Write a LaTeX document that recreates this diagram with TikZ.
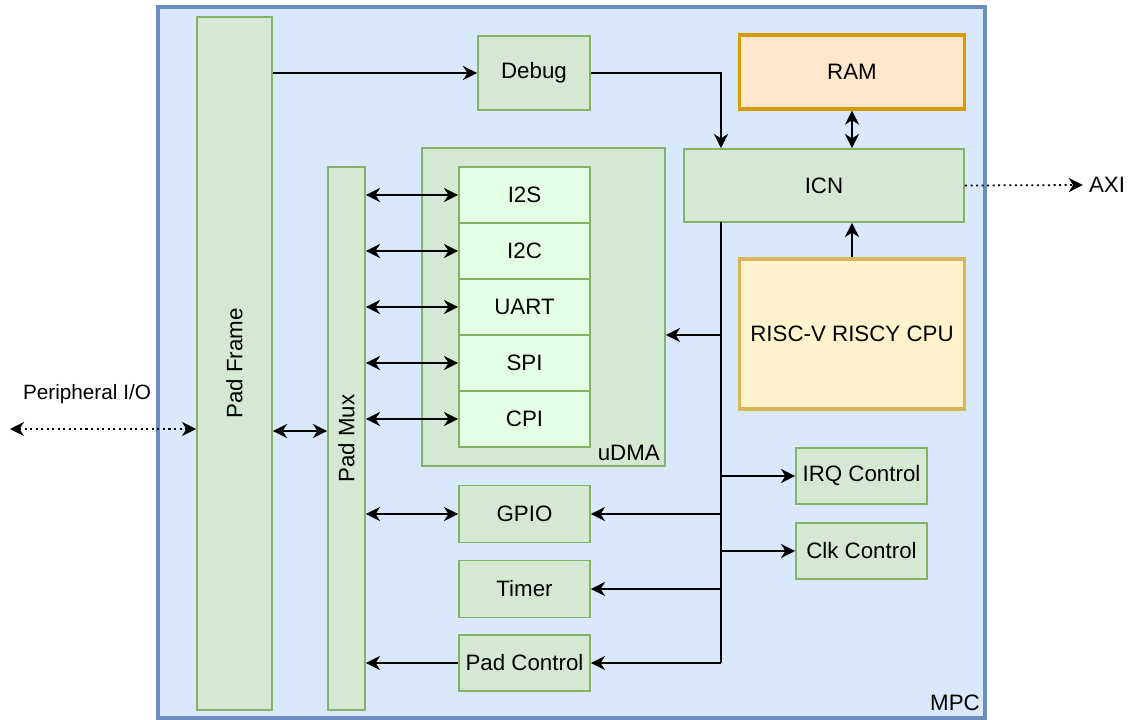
\documentclass[tikz,border=0pt]{standalone}
\usepackage{fontspec}
\setmainfont{Liberation Sans}
\usetikzlibrary{arrows.meta}
\definecolor{mpcfill}{HTML}{DAE8FC}
\definecolor{mpcline}{HTML}{6C8EBF}
\definecolor{blkfill}{HTML}{D5E8D4}
\definecolor{blkline}{HTML}{82B366}
\definecolor{ifcfill}{HTML}{E4FFE4}
\definecolor{ramfill}{HTML}{FFE6CC}
\definecolor{ramline}{HTML}{D79B00}
\definecolor{cpufill}{HTML}{FFF2CC}
\definecolor{cpuline}{HTML}{D6B656}

\begin{document}
\begin{tikzpicture}[x=0.02cm, y=-0.02cm,
    font=\fontsize{12.7}{15}\selectfont,
    sz/.style 2 args={minimum width=#1*0.02cm, minimum height=#2*0.02cm},
    blk/.style={draw=blkline, fill=blkfill, line width=1.1pt, inner sep=0pt},
    ifc/.style={blk, fill=ifcfill},
    arr/.style={-{Stealth[length=8pt, width=8pt, inset=2.5pt]}, line width=1.15pt},
    biarr/.style={{Stealth[length=8pt, width=8pt, inset=2.5pt]}-{Stealth[length=8pt, width=8pt, inset=2.5pt]}, line width=1.15pt},
    dotarr/.style={arr, dotted, line width=1pt},
]
\useasboundingbox (0,0) rectangle (1136,720);

%% --- MPC container ---
\node[sz={827}{711}, draw=mpcline, fill=mpcfill, line width=2.2pt] (mpc) at (571.5,362.5) {};
\node (mpclbl) at (955,703) {MPC};

%% --- pads ---
\node[blk, sz={75}{693}] (padframe) at (234.5,363.5) {};
\node[rotate=90] at (padframe.center) {Pad Frame};
\node[blk, sz={37}{543}] (padmux) at (346.5,438.5) {};
\node[rotate=90] at (padmux.center) {Pad Mux};

%% --- core side ---
\node[blk, sz={112}{74}] (debug) at (534,73) {Debug};
\node[sz={225}{74}, draw=ramline, fill=ramfill, line width=1.8pt] (ram) at (852,72) {RAM};
\node[blk, sz={280}{73}] (icn) at (824,185.5) {ICN};
\node[sz={225}{150}, draw=cpuline, fill=cpufill, line width=1.8pt] (cpu) at (852,334) {RISC-V RISCY CPU};

%% --- uDMA with its interfaces ---
\node[blk, sz={243}{318}] (udma) at (543.5,307) {};
\node[anchor=south east] at (udma.south east) {uDMA};
\node[ifc, sz={131}{56}] (i2s) at (524.5,195) {I2S};
\node[ifc, sz={131}{56}] (i2c) at (524.5,251) {I2C};
\node[ifc, sz={131}{56}] (uart) at (524.5,307) {UART};
\node[ifc, sz={131}{56}] (spi) at (524.5,363) {SPI};
\node[ifc, sz={131}{56}] (cpi) at (524.5,419) {CPI};

%% --- other peripherals ---
\node[blk, sz={131}{57}] (gpio) at (524.5,514) {GPIO};
\node[blk, sz={131}{57}] (timer) at (524.5,589) {Timer};
\node[blk, sz={131}{56}] (padctl) at (524.5,663) {Pad Control};
\node[blk, sz={131}{56}] (irq) at (861.5,476) {IRQ Control};
\node[blk, sz={131}{56}] (clk) at (861.5,551) {Clk Control};

%% --- external labels ---
\node (axi) at (1107,185) {AXI};
\node[font=\fontsize{11.8}{14}\selectfont] (pio) at (87,394) {Peripheral I/O};
\coordinate (pioend) at (10,429);

%% --- peripheral bus ---
\coordinate (bustop) at (721,222);
\coordinate (busbot) at (721,663);
\draw[line width=1.3pt] (bustop) -- (busbot);
\draw[arr] (bustop |- 0,335) -- (udma.east |- 0,335);
\draw[arr] (bustop |- irq.west) -- (irq.west);
\draw[arr] (bustop |- clk.west) -- (clk.west);
\draw[arr] (bustop |- gpio.east) -- (gpio.east);
\draw[arr] (bustop |- timer.east) -- (timer.east);
\draw[arr] (busbot) -- (padctl.east);

%% --- interconnect ---
\draw[arr] (padframe.east |- debug.west) -- (debug.west);
\draw[arr] (debug.east) -| (bustop |- icn.north);
\draw[biarr] (ram.south) -- (icn.north -| ram.south);
\draw[arr] (cpu.north) -- (icn.south -| cpu.north);
\draw[dotarr] (icn.east) -- (axi.west);

%% --- pad connections ---
\draw[dotarr, {Stealth[length=8pt, width=8pt, inset=2.5pt]}-{Stealth[length=8pt, width=8pt, inset=2.5pt]}] (pioend) -- (pioend -| padframe.west);
\draw[biarr] (padframe.east |- 0,431) -- (padmux.west |- 0,431);
\foreach \n in {i2s,i2c,uart,spi,cpi,gpio}
    \draw[biarr] (padmux.east |- \n.west) -- (\n.west);
\draw[arr] (padctl.west) -- (padmux.east |- padctl.west);

\end{tikzpicture}
\end{document}
